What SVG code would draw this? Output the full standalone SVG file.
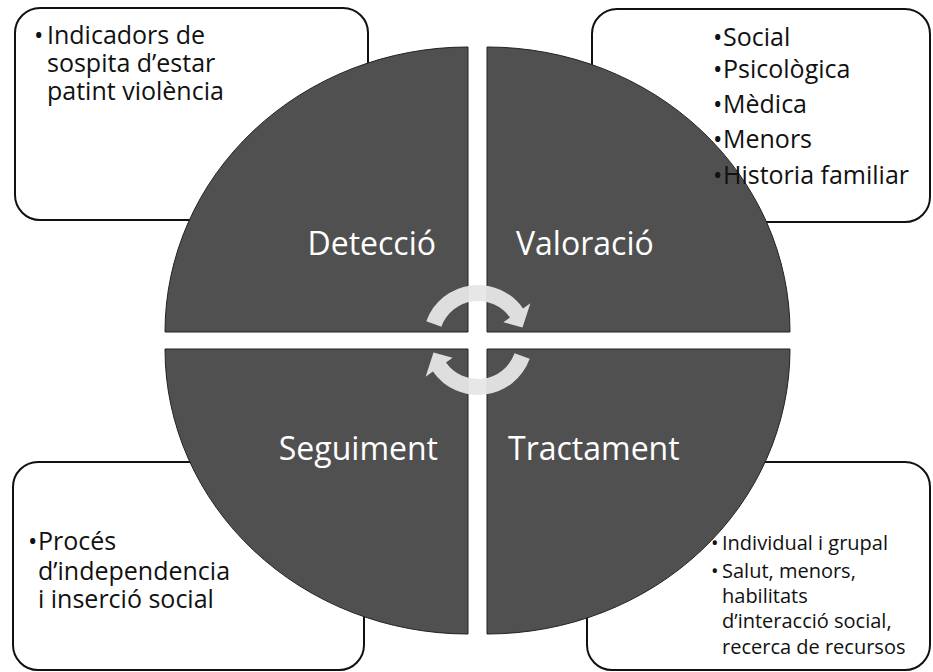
<svg xmlns="http://www.w3.org/2000/svg" width="933" height="672" viewBox="0 0 933 672">
<style>
.box{fill:#fff;stroke:#111;stroke-width:2}
.q{fill:#505050;stroke:#222;stroke-width:1}
.t{font-family:"Open Sans","Liberation Sans",sans-serif;font-size:25px;fill:#111}
.s{font-size:20px}
.lbl{font-family:"Open Sans","Liberation Sans",sans-serif;font-size:32px;fill:#fff}
.arr{fill:#e6e6e6;fill-opacity:0.95}
</style>
<rect width="933" height="672" fill="#fff"/>
<g id="box-detection">
<rect class="box" x="15" y="8" width="353" height="212" rx="25"/>
</g>
<g id="box-valoracio">
<rect class="box" x="592" y="9" width="338" height="213" rx="25"/>
</g>
<g id="box-seguiment">
<rect class="box" x="13" y="462" width="351" height="208" rx="25"/>
</g>
<g id="box-tractament">
<rect class="box" x="587" y="462" width="343" height="208" rx="25"/>
</g>
<g id="q-deteccio">
<path class="q" d="M468 332 L165 332 A303 285 0 0 1 468 47 Z"/>
<text class="lbl" x="436" y="255" text-anchor="end">Detecció</text>
</g>
<g id="q-valoracio">
<path class="q" d="M487 332 L487 47 A303 285 0 0 1 790 332 Z"/>
<text class="lbl" x="516" y="255">Valoració</text>
</g>
<g id="q-tractament">
<path class="q" d="M487 349 L790 349 A303 285 0 0 1 487 634 Z"/>
<text class="lbl" x="508" y="460">Tractament</text>
</g>
<g id="q-seguiment">
<path class="q" d="M468 349 L468 634 A303 285 0 0 1 165 349 Z"/>
<text class="lbl" x="438" y="460" text-anchor="end">Seguiment</text>
</g>
<g id="connectors">
<path class="arr" d="M426.3 321.2 A55 55 0 0 1 523.1 308.5 L530.4 303.3 L522.5 327.5 L503.4 322.2 L510.0 317.6 A39 39 0 0 0 441.4 326.7 Z"/>
<path class="arr" d="M529.7 358.8 A55 55 0 0 1 432.9 371.5 L425.6 376.7 L433.5 352.5 L452.6 357.8 L446.0 362.4 A39 39 0 0 0 514.6 353.3 Z"/>
</g>
<g id="text-detection">
<text class="t" x="34" y="44">•</text>
<text class="t"><tspan x="47" y="44">Indicadors de</tspan><tspan x="47" y="72">sospita d’estar</tspan><tspan x="47" y="100">patint violència</tspan></text>
</g>
<g id="text-valoracio">
<text class="t"><tspan x="713" y="46">•</tspan><tspan x="713" y="78">•</tspan><tspan x="713" y="113">•</tspan><tspan x="713" y="148">•</tspan><tspan x="713" y="184">•</tspan></text>
<text class="t"><tspan x="723" y="46">Social</tspan><tspan x="723" y="78">Psicològica</tspan><tspan x="723" y="113">Mèdica</tspan><tspan x="723" y="148">Menors</tspan><tspan x="723" y="184">Historia familiar</tspan></text>
</g>
<g id="text-seguiment">
<text class="t" x="28" y="550">•</text>
<text class="t"><tspan x="38" y="550">Procés</tspan><tspan x="38" y="580">d’independencia</tspan><tspan x="38" y="608">i inserció social</tspan></text>
</g>
<g id="text-tractament">
<text class="t s"><tspan x="711" y="550">•</tspan><tspan x="711" y="578">•</tspan></text>
<text class="t s"><tspan x="722" y="550">Individual i grupal</tspan><tspan x="722" y="578">Salut, menors,</tspan><tspan x="722" y="603">habilitats</tspan><tspan x="722" y="628">d’interacció social,</tspan><tspan x="722" y="654">recerca de recursos</tspan></text>
</g>
</svg>
